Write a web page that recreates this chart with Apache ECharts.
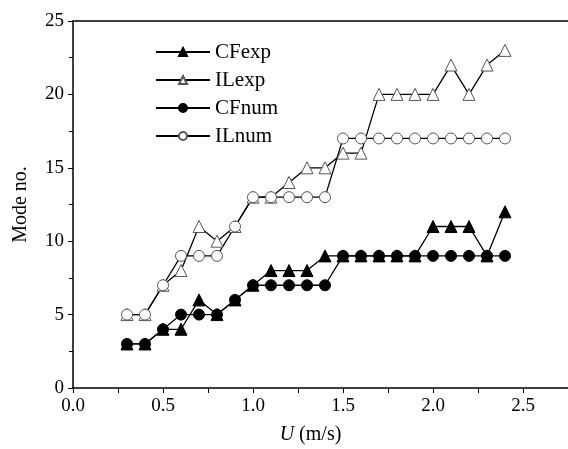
<!DOCTYPE html>
<html>
<head>
<meta charset="utf-8">
<script src="https://cdn.jsdelivr.net/npm/echarts@6/dist/echarts.min.js"></script>
<style>
  html, body { margin: 0; padding: 0; background: #fff; }
  #chart { width: 568px; height: 449px; }
</style>
</head>
<body>
<div id="chart"></div>
<script>
var speeds = [0.3, 0.4, 0.5, 0.6, 0.7, 0.8, 0.9, 1.0, 1.1, 1.2, 1.3, 1.4, 1.5, 1.6, 1.7, 1.8, 1.9, 2.0, 2.1, 2.2, 2.3, 2.4];
var cfExp = [3, 3, 4, 4, 6, 5, 6, 7, 8, 8, 8, 9, 9, 9, 9, 9, 9, 11, 11, 11, 9, 12];
var ilExp = [5, 5, 7, 8, 11, 10, 11, 13, 13, 14, 15, 15, 16, 16, 20, 20, 20, 20, 22, 20, 22, 23];
var cfNum = [3, 3, 4, 5, 5, 5, 6, 7, 7, 7, 7, 7, 9, 9, 9, 9, 9, 9, 9, 9, 9, 9];
var ilNum = [5, 5, 7, 9, 9, 9, 11, 13, 13, 13, 13, 13, 17, 17, 17, 17, 17, 17, 17, 17, 17, 17];
var xLabels = [0, 0.5, 1.0, 1.5, 2.0, 2.5];
var xTicks = [0, 0.25, 0.5, 0.75, 1.0, 1.25, 1.5, 1.75, 2.0, 2.25, 2.5];

var font = 'Liberation Serif, Times New Roman, serif';

function pairs(ys) {
  return speeds.map(function (x, i) { return [x, ys[i]]; });
}

function makeSeries(name, ys, symbol, filled) {
  return {
    name: name,
    type: 'line',
    data: pairs(ys),
    symbol: symbol,
    symbolSize: symbol === 'triangle' ? 12 : 11,
    lineStyle: { color: '#000', width: 1.3 },
    itemStyle: {
      color: filled ? '#000' : '#fff',
      borderColor: filled ? '#000' : '#555',
      borderWidth: 1
    },
    emphasis: { disabled: true },
    animation: false
  };
}

var chart = echarts.init(document.getElementById('chart'));
chart.setOption({
  backgroundColor: '#fff',
  grid: {
    left: 73, top: 21, right: 0, bottom: 61,
    outerBoundsMode: 'none', containLabel: false
  },
  legend: {
    orient: 'vertical',
    left: 150, top: 35,
    itemWidth: 54, itemHeight: 10, itemGap: 4,
    textStyle: { fontFamily: font, fontSize: 21, color: '#000', lineHeight: 24 },
    data: ['CFexp', 'ILexp', 'CFnum', 'ILnum']
  },
  xAxis: [{
    type: 'value', min: 0, max: 2.75,
    name: '{i|U} (m/s)',
    nameLocation: 'middle', nameGap: 37,
    nameTextStyle: {
      fontFamily: font, fontSize: 20, color: '#000', padding: [0, 20, 0, 0],
      rich: { i: { fontFamily: font, fontSize: 20, fontStyle: 'italic', color: '#000' } }
    },
    axisLine: { lineStyle: { color: '#000', width: 1.5 } },
    axisTick: { customValues: xTicks, length: 5, lineStyle: { color: '#000' } },
    axisLabel: {
      customValues: xLabels,
      formatter: function (v) { return v.toFixed(1); },
      fontFamily: font, fontSize: 19, color: '#000', margin: 9
    },
    splitLine: { show: false }
  }, {
    // top frame line only
    type: 'value', min: 0, max: 2.75, position: 'top',
    axisLine: { lineStyle: { color: '#000', width: 1.5 } },
    axisTick: { show: false },
    axisLabel: { show: false },
    splitLine: { show: false }
  }],
  yAxis: {
    type: 'value', min: 0, max: 25, interval: 5,
    name: 'Mode no.',
    nameLocation: 'middle', nameGap: 42,
    nameTextStyle: { fontFamily: font, fontSize: 20, color: '#000' },
    axisLine: { lineStyle: { color: '#000', width: 1.5 } },
    axisTick: { length: 5, lineStyle: { color: '#000' } },
    minorTick: { show: true, splitNumber: 2, length: 4, lineStyle: { color: '#000' } },
    axisLabel: { fontFamily: font, fontSize: 19, color: '#000', margin: 9 },
    splitLine: { show: false }
  },
  series: [
    makeSeries('CFexp', cfExp, 'triangle', true),
    makeSeries('ILexp', ilExp, 'triangle', false),
    makeSeries('CFnum', cfNum, 'circle', true),
    makeSeries('ILnum', ilNum, 'circle', false)
  ]
});
</script>
</body>
</html>
